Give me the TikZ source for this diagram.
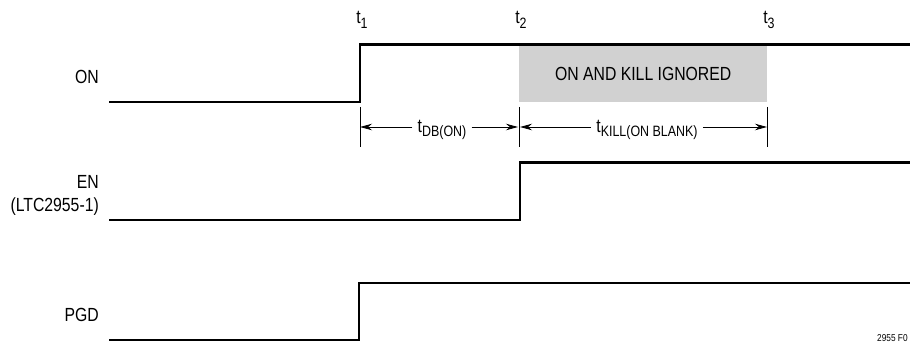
\documentclass[tikz,border=0pt]{standalone}
\usepackage{fontspec}
\setmainfont[FakeStretch=0.83]{Liberation Sans}
\usetikzlibrary{arrows.meta}
\newcommand{\tsub}[2]{#1\raisebox{-0.45ex}{\fontsize{15}{15}\selectfont #2}}

\begin{document}
\begin{tikzpicture}[x=1pt, y=-1pt,
    signal/.style ={line width=2.6pt, line join=miter},
    marker/.style ={line width=0.8pt},
    dimension/.style ={line width=0.8pt, -{Stealth[length=12pt,width=6.5pt]}},
    siglabel/.style ={font=\fontsize{19}{21}\selectfont, inner sep=0pt},
    dimlabel/.style ={font=\fontsize{19}{21}\selectfont, inner sep=5pt}]
   \useasboundingbox (0,0) rectangle (910,344);
   % blanking window
   \node[fill=black!18, minimum width=248pt, minimum height=56pt, inner sep=0pt, anchor=north west] (blank) at (519,46) {};
   \node[siglabel] (ignored) at (blank.center) {ON AND KILL IGNORED};
   % waveforms
   \coordinate (ON0) at (109,102);  \coordinate (ON1) at (360,102);
   \coordinate (ON2) at (360,44.5); \coordinate (ON3) at (910,44.5);
   \coordinate (EN0) at (109,220);  \coordinate (EN1) at (520,220);
   \coordinate (EN2) at (520,162.5); \coordinate (EN3) at (910,162.5);
   \coordinate (PG0) at (109,340);  \coordinate (PG1) at (359,340);
   \coordinate (PG2) at (359,283);  \coordinate (PG3) at (910,283);
   \draw[signal] (ON0) -- (ON1) -- (ON2) -- (ON3);
   \draw[signal] (EN0) -- (EN1) -- (EN2) -- (EN3);
   \draw[signal] (PG0) -- (PG1) -- (PG2) -- (PG3);
   % signal names
   \node[siglabel, anchor=east] (on)  at (99,77)  {ON};
   \node[siglabel, anchor=east] (en)  at (99,182) {EN};
   \node[siglabel, anchor=east] (ltc) at (99,207) {(LTC2955-1)};
   \node[siglabel, anchor=east] (pgd) at (99,315) {PGD};
   % time marks
   \node[siglabel] (t1) at (362,20) {\tsub{t}{1}};
   \node[siglabel] (t2) at (521,20) {\tsub{t}{2}};
   \node[siglabel] (t3) at (769,20) {\tsub{t}{3}};
   \coordinate (M1a) at (360,107); \coordinate (M1b) at (360,147);
   \coordinate (M2a) at (519,107); \coordinate (M2b) at (519,147);
   \coordinate (M3a) at (767,107); \coordinate (M3b) at (767,147);
   \draw[marker] (M1a) -- (M1b);
   \draw[marker] (M2a) -- (M2b);
   \draw[marker] (M3a) -- (M3b);
   \coordinate (D1) at (360,127); \coordinate (D2l) at (518,127);
   \coordinate (D2r) at (520,127); \coordinate (D3) at (767,127);
   \node[dimlabel] (tdb) at (442,130) {\tsub{t}{DB(ON)}};
   \node[dimlabel] (tkill) at (647,130) {\tsub{t}{KILL(ON BLANK)}};
   \draw[dimension] (tdb.west |- D1) -- (D1);
   \draw[dimension] (tdb.east |- D1) -- (D2l);
   \draw[dimension] (tkill.west |- D1) -- (D2r);
   \draw[dimension] (tkill.east |- D1) -- (D3);
   \node[font=\fontsize{10}{10}\selectfont, inner sep=0pt, anchor=west] (fig) at (877,338) {2955 F0};
\end{tikzpicture}
\end{document}
